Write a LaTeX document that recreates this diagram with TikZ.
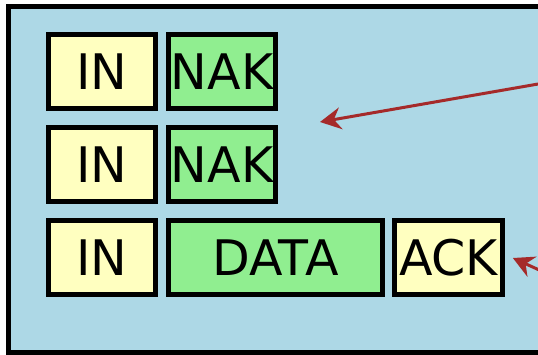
\documentclass[tikz,border=0pt]{standalone}
\usepackage{fontspec}
\setmainfont{DejaVu Sans}
\usetikzlibrary{arrows.meta}
\definecolor{bgblue}{RGB}{173,216,230}
\definecolor{pktyellow}{RGB}{255,255,192}
\definecolor{pktgreen}{RGB}{144,238,144}
\definecolor{arrowbrown}{RGB}{165,42,42}
\tikzset{
  pkt/.style={draw=black, line width=5pt, inner sep=0pt, minimum height=74pt,
    font=\fontsize{49}{49}\selectfont, text height=36pt, text depth=0pt},
  yel/.style={pkt, fill=pktyellow},
  grn/.style={pkt, fill=pktgreen},
  ptr/.style={draw=arrowbrown, line width=3pt,
    -{Stealth[length=21pt, width=22pt, inset=7pt]}},
}
\begin{document}
\begin{tikzpicture}[x=1pt, y=-1pt]
\useasboundingbox (0,0) rectangle (538,355);
\clip (0,0) rectangle (538,355);
\draw[line width=5pt, fill=bgblue] (8.5,7) rectangle (600,352.5);
% row 1
\node[yel, minimum width=107pt] (in1) at (101.8,71.5) {IN};
\node[grn, minimum width=107pt] (nak1) at (222.1,71.5) {NAK};
% row 2
\node[yel, minimum width=107pt] (in2) at (101.8,164.3) {IN};
\node[grn, minimum width=107pt] (nak2) at (222.1,164.3) {NAK};
% row 3
\node[yel, minimum width=107pt] (in3) at (101.8,258) {IN};
\node[grn, minimum width=214pt] (data) at (275.5,258) {DATA};
\node[yel, minimum width=107.5pt] (ack) at (448.6,258) {ACK};
% arrows
\coordinate (s1) at (560,80.2);
\coordinate (t1) at (320,122);
\coordinate (s2) at (548,274);
\draw[ptr] (s1) -- (t1);
\draw[ptr] (s2) -- ([xshift=8pt]ack.east);
\end{tikzpicture}
\end{document}
